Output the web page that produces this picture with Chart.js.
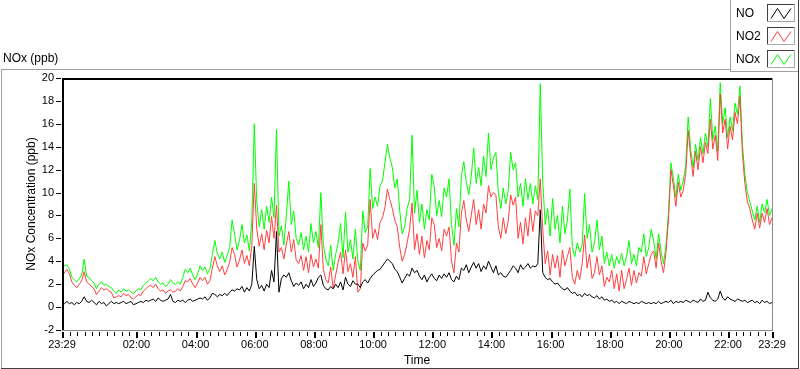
<!DOCTYPE html>
<html>
<head>
<meta charset="utf-8">
<script src="https://cdn.jsdelivr.net/npm/chart.js@4.4.1/dist/chart.umd.min.js"></script>
<style>
html,body{margin:0;padding:0;background:#fff;overflow:hidden}
canvas{display:block}
</style>
</head>
<body>
<canvas id="c" width="800" height="369"></canvas>
<script>
// ---- data (5-minute samples from 23:29 to 23:29 next day) ----
const stepMinutes = 5;
const spanMinutes = 1440;
const seriesNames = ["NO", "NO2", "NOx"];
const majorTickMinutes = [0, 151, 271, 391, 511, 631, 751, 871, 991, 1111, 1231, 1351, 1440];
const majorTickLabels = ["23:29", "02:00", "04:00", "06:00", "08:00", "10:00", "12:00", "14:00", "16:00", "18:00", "20:00", "22:00", "23:29"];
const minorTickFirst = 16;   // 23:45
const minorTickStep = 15;
const yTicks = [-2, 0, 2, 4, 6, 8, 10, 12, 14, 16, 18, 20];

const noValues = [
  0.4,0.3,0.5,0.3,0.4,0.2,0.4,0.3,0.5,0.9,0.5,0.4,
  0.6,0.4,0.2,0.5,0.3,0.4,0.1,0.3,0.5,0.3,0.4,0.3,
  0.4,0.5,0.3,0.4,0.5,0.2,0.3,0.4,0.5,0.4,0.6,0.5,
  0.6,0.7,0.5,0.8,0.6,0.5,0.6,0.7,1.1,0.5,0.4,0.6,
  0.5,0.6,0.4,0.6,0.7,0.5,0.6,0.7,0.8,0.7,0.9,0.6,
  0.8,1.2,1.1,0.9,1.1,1.0,1.2,1.0,1.3,1.5,1.4,1.6,
  1.5,1.8,1.3,1.7,1.4,2.0,5.3,2.4,1.6,1.9,1.4,2.0,
  1.7,3.2,2.2,6.6,1.3,2.5,2.8,2.6,3.0,2.3,1.8,2.1,
  1.9,2.2,1.6,2.0,1.7,2.4,1.8,2.1,2.6,2.8,1.9,1.6,
  1.5,1.8,1.6,2.0,1.7,2.2,1.5,2.6,2.0,1.8,2.3,2.0,
  2.0,1.7,2.2,2.4,2.1,2.5,2.8,3.0,3.2,3.3,3.6,3.9,
  4.2,4.0,3.8,3.3,3.1,2.6,2.1,2.5,2.9,2.7,3.4,3.0,
  3.2,2.7,2.4,2.8,2.2,2.6,2.9,2.5,2.3,2.8,2.5,2.9,
  2.6,3.0,2.4,2.2,2.7,2.4,3.4,3.2,3.7,3.0,3.5,3.9,
  3.4,3.8,3.1,3.6,3.3,4.0,3.5,3.0,3.6,2.8,3.0,2.7,
  2.6,2.9,3.2,3.6,3.4,3.0,3.7,3.3,3.5,3.8,3.4,3.6,
  3.5,3.8,8.5,3.0,2.6,2.4,2.5,2.2,2.0,2.1,1.8,1.6,
  1.5,1.7,1.4,1.2,1.3,1.0,1.1,0.9,1.2,1.0,1.1,0.9,
  0.8,1.0,0.7,0.9,0.6,0.7,0.5,0.6,0.4,0.5,0.3,0.5,
  0.4,0.3,0.5,0.4,0.3,0.4,0.3,0.5,0.4,0.3,0.4,0.3,
  0.4,0.3,0.5,0.3,0.4,0.5,0.4,0.6,0.3,0.5,0.4,0.5,
  0.4,0.6,0.5,0.4,0.6,0.5,0.4,0.7,0.5,0.6,1.3,0.8,
  0.6,0.5,0.7,1.4,0.8,0.6,0.9,0.7,0.6,0.5,0.7,0.6,
  0.5,0.6,0.4,0.5,0.6,0.4,0.5,0.3,0.6,0.4,0.5,0.3,0.4
];

const no2Values = [
  2.7,3.0,3.3,2.9,2.2,1.9,1.7,2.0,2.3,3.1,2.2,2.0,
  1.8,1.6,1.1,1.4,1.7,1.5,1.6,1.4,1.3,0.8,0.9,1.0,
  0.9,1.2,1.0,1.1,0.8,0.7,0.9,1.1,1.0,1.4,1.6,1.8,
  1.9,1.7,2.0,1.6,1.4,1.5,1.2,1.4,1.5,1.3,1.4,1.6,
  1.4,1.8,2.3,2.2,2.5,2.0,1.7,2.1,2.6,2.3,2.6,2.0,
  2.3,3.4,4.4,3.6,3.1,3.6,2.8,3.3,3.9,5.2,4.6,3.5,
  4.1,5.0,3.8,4.5,3.6,5.4,10.8,6.8,5.3,6.4,5.0,6.7,
  5.6,7.9,6.0,8.9,4.8,5.2,4.2,5.5,6.6,4.8,5.9,4.1,
  3.8,4.5,3.2,4.4,3.0,4.6,3.5,4.2,3.4,7.2,3.3,2.4,
  2.1,3.5,1.6,2.8,3.9,4.8,2.9,5.0,3.1,3.8,2.6,4.4,
  1.3,1.6,5.6,4.9,5.4,9.4,6.0,6.8,5.9,7.4,7.8,8.7,
  10.3,9.4,8.6,7.6,7.0,5.2,4.0,4.6,5.6,6.8,9.1,5.0,
  6.4,4.6,6.2,4.3,5.8,5.0,7.8,7.2,5.2,6.0,4.9,6.8,
  6.2,7.0,4.0,3.0,5.6,4.8,8.2,9.3,7.6,6.6,8.0,9.4,
  7.2,8.5,6.8,9.0,8.2,10.6,9.6,10.0,9.8,7.0,6.0,7.8,
  6.4,7.5,9.8,8.9,9.6,6.0,7.4,5.5,7.8,6.2,8.6,6.6,
  8.4,8.0,11.2,6.8,3.8,4.9,2.8,4.6,3.4,4.5,2.6,5.0,
  3.6,4.4,5.2,2.6,2.0,3.2,2.4,3.8,6.3,3.4,4.6,2.5,
  3.0,4.4,2.8,3.6,1.8,2.6,2.2,3.2,1.6,2.9,1.4,3.2,
  1.6,2.4,3.4,1.9,3.2,2.1,3.0,2.7,4.4,2.9,3.8,4.6,
  4.9,3.4,5.6,4.0,3.0,4.8,7.6,12.0,10.6,8.8,10.9,9.6,
  10.2,11.6,15.4,13.2,11.4,13.6,12.0,14.0,12.6,14.4,13.4,16.4,
  13.8,15.0,12.8,18.6,15.2,16.4,13.8,15.8,14.6,17.0,16.0,18.4,
  13.4,10.8,9.2,8.6,7.6,6.8,8.2,6.9,8.2,7.4,8.6,7.2,7.8
];

const noxValues = [
  3.4,3.6,3.7,3.3,2.6,2.4,2.2,2.5,2.8,4.2,2.7,2.6,
  2.3,2.1,1.6,2.0,2.2,1.9,2.0,1.8,1.7,1.4,1.2,1.5,
  1.3,1.6,1.4,1.5,1.3,1.2,1.4,1.6,1.5,1.9,2.1,2.3,
  2.5,2.3,2.6,2.2,2.0,2.1,1.8,2.0,2.4,2.1,2.0,2.2,
  2.0,2.6,3.3,3.0,3.4,2.8,2.4,2.9,3.6,3.2,3.5,2.9,
  3.3,4.6,5.8,4.7,4.2,4.8,3.9,4.5,5.2,7.6,6.4,5.0,
  5.8,7.2,5.6,6.3,4.9,7.5,16.0,9.2,7.0,8.5,6.8,8.8,
  7.4,9.6,7.8,15.5,6.2,7.1,5.4,8.0,11.0,7.2,8.4,6.0,
  5.4,6.5,5.0,6.2,4.8,7.3,5.6,6.6,5.2,10.0,5.5,4.2,
  3.6,5.4,3.2,4.6,5.6,7.3,4.3,8.3,4.8,5.9,4.2,6.8,
  4.0,3.2,8.4,6.5,7.0,12.1,8.6,9.6,8.8,10.6,11.0,12.6,
  14.2,13.0,12.2,10.4,11.2,8.4,6.4,7.0,8.6,9.4,15.0,8.2,
  10.2,7.4,9.0,6.8,8.5,7.6,11.6,10.5,8.0,9.3,7.9,10.4,
  9.6,11.2,7.2,5.4,8.6,7.0,11.5,12.7,10.9,9.8,11.4,13.9,
  10.8,12.2,10.6,13.2,11.4,15.2,12.0,13.0,13.5,10.0,8.6,10.4,
  9.0,10.2,13.5,12.0,12.6,9.6,10.8,8.8,11.2,9.4,10.8,9.0,
  10.6,9.4,19.5,11.0,7.2,8.6,6.2,9.5,6.8,8.0,5.6,8.8,
  6.4,7.6,10.3,5.2,4.4,5.6,4.8,5.4,9.9,6.0,7.2,4.8,
  5.6,7.6,5.0,6.2,3.8,4.8,3.6,4.6,3.4,4.4,3.8,4.7,
  3.6,4.4,5.8,3.8,4.6,3.6,5.2,4.8,6.4,4.4,5.2,6.8,
  5.8,4.2,6.4,4.8,3.8,5.4,8.2,12.6,11.2,9.6,11.6,10.2,
  11.0,12.4,16.6,13.8,12.2,14.2,12.8,14.8,13.4,15.2,14.0,18.2,
  14.6,15.8,13.6,19.6,16.0,17.4,14.8,16.6,15.4,17.8,16.8,19.3,
  14.2,11.6,10.0,9.2,8.4,7.6,8.8,7.4,9.0,8.2,9.4,8.0,8.6
];

if (noValues.length !== no2Values.length || noValues.length !== noxValues.length) {
  throw new Error("length mismatch " + noValues.length + " " + no2Values.length + " " + noxValues.length);
}

// ---- styles ----
const FONT = "'Liberation Sans', Arial, sans-serif";
const seriesColors = ["#000000", "#ff4040", "#00ff00"];

const toPoints = vals => vals.map((v, i) => ({ x: i * stepMinutes, y: v }));

const framePlugin = {
  id: 'labviewFrame',
  beforeDraw(chart) {
    const ctx = chart.ctx;
    ctx.save();
    ctx.fillStyle = '#ffffff';
    ctx.fillRect(0, 0, chart.width, chart.height);
    // outer panel border
    ctx.fillStyle = '#a0a0a0';
    ctx.fillRect(1, 69, 797, 1);
    ctx.fillRect(1, 69, 1, 299);
    ctx.fillStyle = '#404040';
    ctx.fillRect(1, 368, 798, 1);
    ctx.fillRect(798, 69, 1, 300);
    // panel label
    ctx.fillStyle = '#000';
    ctx.font = "12px " + FONT;
    ctx.textAlign = 'left';
    ctx.textBaseline = 'middle';
    ctx.fillText("NOx (ppb)", 3, 59);
    ctx.restore();
  },
  afterDraw(chart) {
    const ctx = chart.ctx;
    const a = chart.chartArea;
    const xs = chart.scales.x, ys = chart.scales.y;
    ctx.save();
    // plot area border (sunken look)
    ctx.fillStyle = '#000';
    ctx.fillRect(a.left, a.top, a.right - a.left, 2);
    ctx.fillRect(a.left, a.top, 2, a.bottom - a.top);
    ctx.fillStyle = '#8c8c8c';
    ctx.fillRect(a.right, a.top, 1, a.bottom - a.top + 1);
    ctx.fillRect(a.left, a.bottom, a.right - a.left + 1, 1);
    // y tick marks
    ctx.fillStyle = '#000';
    yTicks.forEach(v => {
      const y = Math.round(ys.getPixelForValue(v));
      ctx.fillRect(a.left - 6, y, 5, 1);
    });
    // x minor tick marks
    for (let m = minorTickFirst; m < spanMinutes; m += minorTickStep) {
      if (majorTickMinutes.indexOf(m) >= 0) continue;
      const x = Math.round(xs.getPixelForValue(m));
      ctx.fillRect(x, a.bottom + 2, 1, 4);
    }
    // x major tick marks
    majorTickMinutes.forEach(m => {
      const x = Math.round(xs.getPixelForValue(m));
      ctx.fillRect(x, a.bottom + 2, 2, 6);
    });
    // legend panel
    ctx.fillStyle = '#ffffff';
    ctx.fillRect(730, 0, 69, 72);
    ctx.fillStyle = '#a0a0a0';
    ctx.fillRect(730, 0, 1, 72);
    ctx.fillRect(730, 71, 69, 1);
    ctx.fillStyle = '#404040';
    ctx.fillRect(798, 0, 1, 72);
    ctx.font = "12px " + FONT;
    ctx.textAlign = 'left';
    ctx.textBaseline = 'middle';
    chart.data.datasets.forEach((ds, k) => {
      const y0 = 4 + 23 * k;
      ctx.fillStyle = '#000';
      ctx.fillText(ds.label, 736, y0 + 9.5);
      const bx = 767, bw = 28, bh = 18;
      ctx.fillStyle = '#ffffff';
      ctx.fillRect(bx, y0, bw, bh);
      ctx.fillStyle = '#404040';
      ctx.fillRect(bx, y0, bw, 1);
      ctx.fillRect(bx, y0, 1, bh);
      ctx.fillStyle = '#a8a8a8';
      ctx.fillRect(bx, y0 + bh - 1, bw, 1);
      ctx.fillRect(bx + bw - 1, y0, 1, bh);
      ctx.strokeStyle = ds.borderColor;
      ctx.lineWidth = 1;
      ctx.beginPath();
      ctx.moveTo(bx + 4, y0 + 14.5);
      ctx.lineTo(bx + 10.5, y0 + 4.5);
      ctx.lineTo(bx + 17, y0 + 14.5);
      ctx.lineTo(bx + 24, y0 + 4.5);
      ctx.stroke();
    });
    ctx.restore();
  }
};

new Chart(document.getElementById('c'), {
  type: 'line',
  data: {
    datasets: [
      { label: seriesNames[0], data: toPoints(noValues), borderColor: seriesColors[0] },
      { label: seriesNames[1], data: toPoints(no2Values), borderColor: seriesColors[1] },
      { label: seriesNames[2], data: toPoints(noxValues), borderColor: seriesColors[2] }
    ]
  },
  options: {
    responsive: false,
    animation: false,
    devicePixelRatio: 1,
    events: [],
    layout: { padding: { left: 0, top: 78, right: 28, bottom: 0 } },
    elements: {
      point: { radius: 0 },
      line: { borderWidth: 1, tension: 0, fill: false }
    },
    plugins: {
      legend: { display: false },
      tooltip: { enabled: false },
      title: { display: false }
    },
    scales: {
      x: {
        type: 'linear',
        min: 0,
        max: spanMinutes,
        grid: { display: false, drawTicks: false },
        border: { display: false },
        afterBuildTicks: s => { s.ticks = majorTickMinutes.map(v => ({ value: v })); },
        afterFit: s => { s.height = 39; },
        ticks: {
          autoSkip: false,
          maxRotation: 0,
          padding: 8,
          color: '#000',
          font: { family: FONT, size: 11 },
          callback: v => majorTickLabels[majorTickMinutes.indexOf(v)]
        },
        title: {
          display: true,
          text: 'Time',
          color: '#000',
          font: { family: FONT, size: 12 },
          padding: { top: 0, bottom: 1 }
        }
      },
      y: {
        type: 'linear',
        min: -2,
        max: 20,
        grid: { display: false, drawTicks: false },
        border: { display: false },
        afterBuildTicks: s => { s.ticks = yTicks.map(v => ({ value: v })); },
        afterFit: s => { s.width = 62; },
        ticks: {
          padding: 8,
          color: '#000',
          font: { family: FONT, size: 11 },
          callback: v => String(v)
        },
        title: {
          display: true,
          text: 'NOx Concentration (ppb)',
          color: '#000',
          font: { family: FONT, size: 12 },
          padding: { top: 24, bottom: 0 }
        }
      }
    }
  },
  plugins: [framePlugin]
});
</script>
</body>
</html>
